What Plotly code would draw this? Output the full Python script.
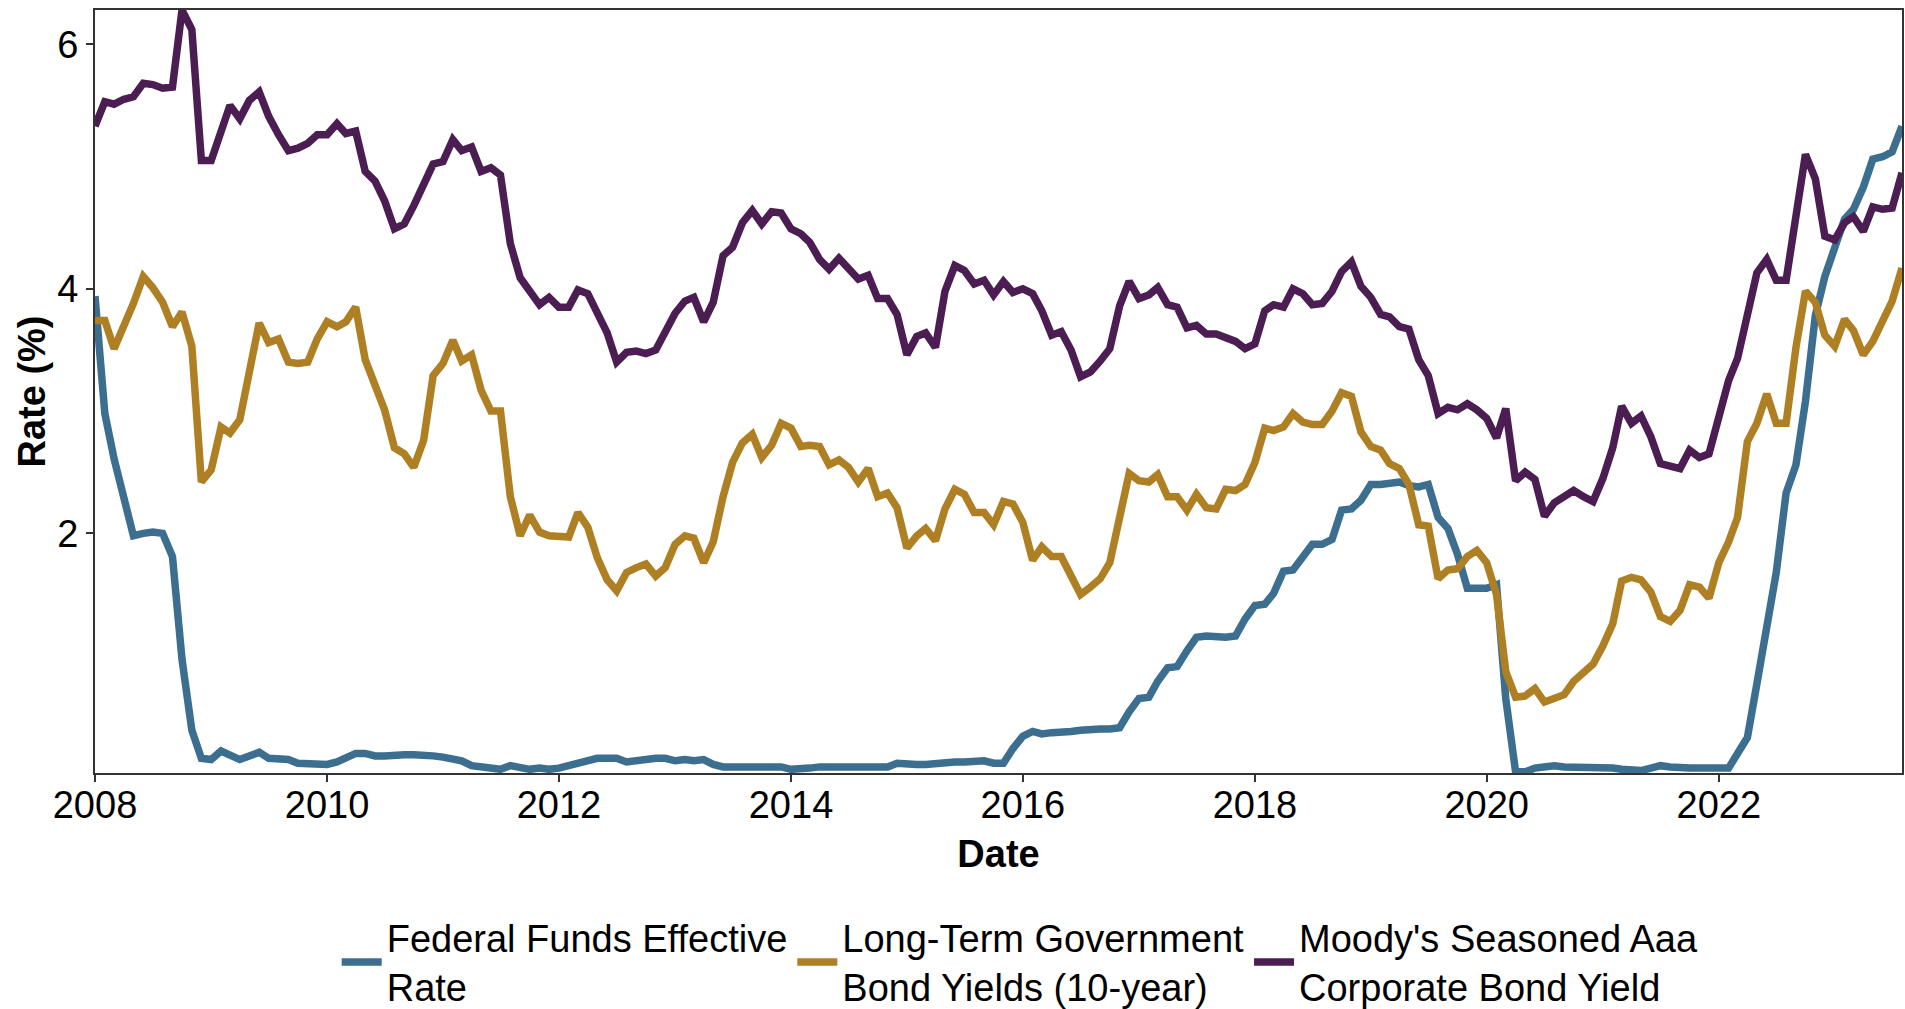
import pandas as pd
import plotly.graph_objects as go

# monthly observations, Jan 2008 - Aug 2023
dates = pd.date_range('2008-01-01', '2023-08-01', freq='MS')

fed_funds = [
    3.94, 2.98, 2.61, 2.28, 1.98, 2.00, 2.01, 2.00, 1.81, 0.97, 0.39, 0.16,
    0.15, 0.22, 0.18, 0.15, 0.18, 0.21, 0.16, 0.16, 0.15, 0.12, 0.12, 0.12,
    0.11, 0.13, 0.16, 0.20, 0.20, 0.18, 0.18, 0.19, 0.19, 0.19, 0.19, 0.18,
    0.17, 0.16, 0.14, 0.10, 0.09, 0.09, 0.07, 0.10, 0.08, 0.07, 0.08, 0.07,
    0.08, 0.10, 0.13, 0.14, 0.16, 0.16, 0.16, 0.13, 0.14, 0.16, 0.16, 0.16,
    0.14, 0.15, 0.14, 0.15, 0.11, 0.09, 0.09, 0.08, 0.08, 0.09, 0.08, 0.09,
    0.07, 0.07, 0.08, 0.09, 0.09, 0.10, 0.09, 0.09, 0.09, 0.09, 0.09, 0.12,
    0.11, 0.11, 0.11, 0.12, 0.12, 0.13, 0.13, 0.14, 0.14, 0.12, 0.12, 0.24,
    0.34, 0.38, 0.36, 0.37, 0.37, 0.38, 0.39, 0.40, 0.40, 0.40, 0.41, 0.54,
    0.65, 0.66, 0.79, 0.90, 0.91, 1.04, 1.15, 1.16, 1.15, 1.15, 1.16, 1.30,
    1.41, 1.42, 1.51, 1.69, 1.70, 1.82, 1.91, 1.91, 1.95, 2.19, 2.20, 2.27,
    2.40, 2.40, 2.41, 2.42, 2.39, 2.38, 2.40, 2.13, 2.04, 1.83, 1.55, 1.55,
    1.55, 1.58, 0.65, 0.05, 0.05, 0.08, 0.09, 0.10, 0.09, 0.09, 0.09, 0.09,
    0.09, 0.08, 0.07, 0.07, 0.06, 0.08, 0.10, 0.09, 0.08, 0.08, 0.08, 0.08,
    0.08, 0.08, 0.20, 0.33, 0.77, 1.21, 1.68, 2.33, 2.56, 3.08, 3.78, 4.10,
    4.33, 4.57, 4.65, 4.83, 5.06, 5.08, 5.12, 5.33,
]

gov_10y = [
    3.74, 3.74, 3.51, 3.68, 3.88, 4.10, 4.01, 3.89, 3.69, 3.81, 3.53, 2.42,
    2.52, 2.87, 2.82, 2.93, 3.29, 3.72, 3.56, 3.59, 3.40, 3.39, 3.40, 3.59,
    3.73, 3.69, 3.73, 3.85, 3.42, 3.20, 3.01, 2.70, 2.65, 2.54, 2.76, 3.29,
    3.39, 3.58, 3.41, 3.46, 3.17, 3.00, 3.00, 2.30, 1.98, 2.15, 2.01, 1.98,
    1.97, 1.97, 2.17, 2.05, 1.80, 1.62, 1.53, 1.68, 1.72, 1.75, 1.65, 1.72,
    1.91, 1.98, 1.96, 1.76, 1.93, 2.30, 2.58, 2.74, 2.81, 2.62, 2.72, 2.90,
    2.86, 2.71, 2.72, 2.71, 2.56, 2.60, 2.54, 2.42, 2.53, 2.30, 2.33, 2.21,
    1.88, 1.98, 2.04, 1.94, 2.20, 2.36, 2.32, 2.17, 2.17, 2.07, 2.26, 2.24,
    2.09, 1.78, 1.89, 1.81, 1.81, 1.64, 1.50, 1.56, 1.63, 1.76, 2.14, 2.49,
    2.43, 2.42, 2.48, 2.30, 2.30, 2.19, 2.32, 2.21, 2.20, 2.36, 2.35, 2.40,
    2.58, 2.86, 2.84, 2.87, 2.98, 2.91, 2.89, 2.89, 3.00, 3.15, 3.12, 2.83,
    2.71, 2.68, 2.57, 2.53, 2.40, 2.07, 2.06, 1.63, 1.70, 1.71, 1.81, 1.86,
    1.76, 1.50, 0.87, 0.66, 0.67, 0.73, 0.62, 0.65, 0.68, 0.79, 0.87, 0.93,
    1.08, 1.26, 1.61, 1.64, 1.62, 1.52, 1.32, 1.28, 1.37, 1.58, 1.56, 1.47,
    1.76, 1.93, 2.13, 2.75, 2.90, 3.14, 2.90, 2.90, 3.52, 3.98, 3.89, 3.62,
    3.53, 3.75, 3.66, 3.46, 3.57, 3.75, 3.90, 4.17,
]

aaa = [
    5.33, 5.53, 5.51, 5.55, 5.57, 5.68, 5.67, 5.64, 5.65, 6.28, 6.12, 5.05,
    5.05, 5.27, 5.50, 5.39, 5.54, 5.61, 5.41, 5.26, 5.13, 5.15, 5.19, 5.26,
    5.26, 5.35, 5.27, 5.29, 4.96, 4.88, 4.72, 4.49, 4.53, 4.68, 4.87, 5.02,
    5.04, 5.22, 5.13, 5.16, 4.96, 4.99, 4.93, 4.37, 4.09, 3.98, 3.87, 3.93,
    3.85, 3.85, 3.99, 3.96, 3.80, 3.64, 3.40, 3.48, 3.49, 3.47, 3.50, 3.65,
    3.80, 3.90, 3.93, 3.73, 3.89, 4.27, 4.34, 4.54, 4.64, 4.53, 4.63, 4.62,
    4.49, 4.45, 4.38, 4.24, 4.16, 4.25, 4.16, 4.08, 4.11, 3.92, 3.92, 3.79,
    3.46, 3.61, 3.64, 3.52, 3.98, 4.19, 4.15, 4.04, 4.07, 3.95, 4.06, 3.97,
    4.00, 3.96, 3.82, 3.62, 3.65, 3.50, 3.28, 3.32, 3.41, 3.51, 3.86, 4.06,
    3.92, 3.95, 4.01, 3.87, 3.85, 3.68, 3.70, 3.63, 3.63, 3.60, 3.57, 3.51,
    3.55, 3.82, 3.87, 3.85, 4.00, 3.96, 3.87, 3.88, 3.98, 4.14, 4.22, 4.02,
    3.93, 3.79, 3.77, 3.69, 3.67, 3.42, 3.29, 2.98, 3.03, 3.01, 3.06, 3.01,
    2.94, 2.78, 3.02, 2.43, 2.50, 2.44, 2.14, 2.25, 2.31, 2.35, 2.30, 2.26,
    2.45, 2.70, 3.04, 2.90, 2.96, 2.79, 2.57, 2.55, 2.53, 2.68, 2.62, 2.65,
    2.93, 3.25, 3.43, 3.76, 4.13, 4.24, 4.07, 4.07, 4.59, 5.10, 4.90, 4.43,
    4.40, 4.54, 4.59, 4.47, 4.67, 4.65, 4.66, 4.95,
]

series_names = ['Federal Funds Effective<br>Rate',
                'Long-Term Government<br>Bond Yields (10-year)',
                "Moody's Seasoned Aaa<br>Corporate Bond Yield"]
series_colors = ['#3B6E8F', '#AF7F24', '#4B1D52']

FONT = 'Liberation Sans, Arial, sans-serif'

fig = go.Figure()
for vals, name, col in zip([fed_funds, gov_10y, aaa], series_names, series_colors):
    fig.add_trace(go.Scatter(x=dates, y=vals, mode='lines', name=name,
                             line=dict(color=col, width=7.5)))

fig.update_layout(
    width=1905, height=1009,
    margin=dict(l=95, r=1, t=10, b=236),
    paper_bgcolor='white', plot_bgcolor='white',
    font=dict(family=FONT, size=38, color='black'),
    showlegend=True,
    legend=dict(orientation='h', x=0.512, xanchor='center',
                yref='container', y=0.102, yanchor='top',
                font=dict(size=38), itemwidth=40, tracegroupgap=0),
)

fig.update_xaxes(
    range=['2008-01-01', '2023-08-01'],
    dtick='M24', tick0='2008-01-01', tickformat='%Y',
    ticks='outside', ticklen=7, tickwidth=2, tickcolor='#333333',
    ticklabelstandoff=-10,
    showline=True, linecolor='#333333', linewidth=2, mirror=True,
    showgrid=False, zeroline=False,
    title=dict(text='<b>Date</b>', font=dict(size=38), standoff=16),
)
fig.update_yaxes(
    range=[0.04, 6.28],
    tickvals=[2, 4, 6],
    ticks='outside', ticklen=7, tickwidth=2, tickcolor='#333333',
    showline=True, linecolor='#333333', linewidth=2, mirror=True,
    showgrid=False, zeroline=False,
    title=dict(text='<b>Rate (%)</b>', font=dict(size=38), standoff=0),
)

# drop the browser's default body margin so the figure sits at the page origin
fig.write_html('out.html', config={'displayModeBar': False},
               post_script="document.body.style.margin='0';")
